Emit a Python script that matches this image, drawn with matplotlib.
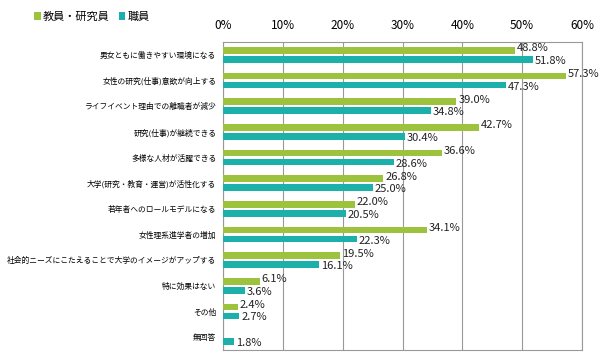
import matplotlib
matplotlib.use("Agg")
import matplotlib.pyplot as plt
import numpy as np

plt.rcParams['font.family'] = ['Noto Sans CJK JP', 'DejaVu Sans']

categories = [
    "男女ともに働きやすい環境になる",
    "女性の研究(仕事)意欲が向上する",
    "ライフイベント理由での離職者が減少",
    "研究(仕事)が継続できる",
    "多様な人材が活躍できる",
    "大学(研究・教育・運営)が活性化する",
    "若年者へのロールモデルになる",
    "女性理系進学者の増加",
    "社会的ニーズにこたえることで大学のイメージがアップする",
    "特に効果はない",
    "その他",
    "無回答",
]
faculty = [48.8, 57.3, 39.0, 42.7, 36.6, 26.8, 22.0, 34.1, 19.5, 6.1, 2.4, None]
staff = [51.8, 47.3, 34.8, 30.4, 28.6, 25.0, 20.5, 22.3, 16.1, 3.6, 2.7, 1.8]
ticks = [0, 10, 20, 30, 40, 50, 60]

green = "#9dc23e"
teal = "#1bb1aa"

fig = plt.figure(figsize=(6, 3.6), dpi=100)
ax = fig.add_axes([0.372, 0.028, 0.598, 0.855])

y = np.arange(len(categories))
off = 0.175
h = 0.26
fac_vals = [v if v is not None else 0 for v in faculty]
ax.barh(y - off, fac_vals, height=h, color=green, label="教員・研究員", zorder=3)
ax.barh(y + off, staff, height=h, color=teal, label="職員", zorder=3)

# value labels
for i, v in enumerate(faculty):
    if v is not None:
        ax.text(v + 0.3, y[i] - off - 0.08, f"{v:.1f}%", va="center", ha="left", fontsize=8, color="#222222", zorder=4)
for i, v in enumerate(staff):
    ax.text(v + 0.3, y[i] + off + 0.06, f"{v:.1f}%", va="center", ha="left", fontsize=8, color="#222222", zorder=4)

ax.set_xlim(0, 60)
ax.set_ylim(len(categories) - 0.5, -0.5)
ax.set_xticks(ticks)
ax.set_xticklabels([f"{t}%" for t in ticks], fontsize=8.5)
ax.xaxis.tick_top()
ax.tick_params(axis="x", length=0, pad=7)
ax.set_yticks(y)
ax.set_yticklabels(categories, fontsize=5.6)
ax.tick_params(axis="y", length=0, pad=5)
ax.grid(axis="x", color="#999999", linewidth=0.8, zorder=0)
for s in ax.spines.values():
    s.set_color("#999999")
    s.set_linewidth(0.8)

fig.legend(loc="upper left", bbox_to_anchor=(0.04, 0.995), ncol=2, frameon=False,
           fontsize=8, handlelength=0.6, handleheight=0.6, handletextpad=0.2, columnspacing=0.8)

fig.savefig("out.png", dpi=100)
